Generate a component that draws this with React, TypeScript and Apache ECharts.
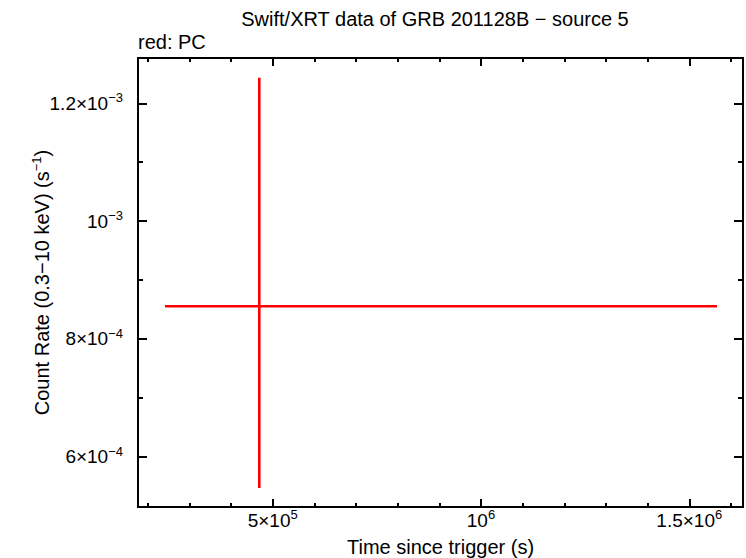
import React, { useEffect, useRef } from "react";
import * as echarts from "echarts";

// Data
const timeMid = [4.678e5];
const timeLo = [2.415e5];
const timeHi = [1.5665e6];
const rateMid = [8.555e-4];
const rateLo = [5.469e-4];
const rateHi = [1.2435e-3];

const xMajorTicks = [5e5, 1e6, 1.5e6];
const xMinorTicks = [2e5, 3e5, 4e5, 6e5, 7e5, 8e5, 9e5, 1.1e6, 1.2e6, 1.3e6, 1.4e6, 1.6e6];
const yMajorTicks = [6e-4, 8e-4, 1e-3, 1.2e-3];
const yMinorTicks = [7e-4, 9e-4, 1.1e-3];

const X_MIN = 1.767e5;
const X_MAX = 1.629e6;
const Y_MIN = 5.146e-4;
const Y_MAX = 1.2769e-3;

const FONT = "'Liberation Sans', Arial, Helvetica, sans-serif";

function sciLabel(v: number): string {
  const e = Math.floor(Math.log10(v) + 1e-9);
  const m = Math.round((v / Math.pow(10, e)) * 100) / 100;
  const es = e < 0 ? "\u2212" + Math.abs(e) : String(e);
  if (m === 1) return "{b|10}{s|" + es + "}";
  return "{b|" + m + "\u00d710}{s|" + es + "}";
}

const rich = {
  b: { fontSize: 19, fontFamily: FONT, color: "#000" },
  s: { fontSize: 13, fontFamily: FONT, color: "#000", padding: [0, 0, 11, 0] },
};

export default function App() {
  const ref = useRef<HTMLDivElement>(null);
  useEffect(() => {
    if (!ref.current) return;
    const chart = echarts.init(ref.current, undefined, { renderer: "svg" });
    const axisLine = { show: true, lineStyle: { color: "#000", width: 2 } };
    const mkX = (pos: "top" | "bottom", ticks: number[], len: number, labels: boolean, name?: string) => ({
      type: "value",
      position: pos,
      min: X_MIN,
      max: X_MAX,
      axisLine,
      splitLine: { show: false },
      axisTick: { show: true, inside: true, length: len, customValues: ticks, lineStyle: { color: "#000", width: 2 } },
      axisLabel: labels
        ? { show: true, customValues: ticks, formatter: (v: number) => sciLabel(v), rich, fontSize: 19, fontFamily: FONT, color: "#000", margin: 1 }
        : { show: false },
      name: name,
      nameLocation: "middle",
      nameGap: 30,
      nameMoveOverlap: false,
      nameTextStyle: { fontSize: 20, fontFamily: FONT, color: "#000" },
    });
    const mkY = (pos: "left" | "right", ticks: number[], len: number, labels: boolean, name?: string) => ({
      type: "value",
      position: pos,
      min: Y_MIN,
      max: Y_MAX,
      axisLine,
      splitLine: { show: false },
      axisTick: { show: true, inside: true, length: len, customValues: ticks, lineStyle: { color: "#000", width: 2 } },
      axisLabel: labels
        ? { show: true, customValues: ticks, formatter: (v: number) => sciLabel(v), rich, fontSize: 19, fontFamily: FONT, color: "#000", margin: 15 }
        : { show: false },
      name: name,
      nameLocation: "middle",
      nameGap: 84,
      nameMoveOverlap: false,
      nameTextStyle: {
        fontSize: 20,
        fontFamily: FONT,
        color: "#000",
        rich: {
          n: { fontSize: 20, fontFamily: FONT, color: "#000" },
          s: { fontSize: 13, fontFamily: FONT, color: "#000", padding: [0, 0, 11, 0] },
        },
      },
    });

    const data = timeMid.map((t, i) => [t, timeLo[i], timeHi[i], rateMid[i], rateLo[i], rateHi[i]]);

    chart.setOption({
      animation: false,
      backgroundColor: "#fff",
      grid: { left: 138, right: 3, top: 58, bottom: 51, containLabel: false, outerBoundsMode: "none" },
      xAxis: [
        mkX("bottom", xMajorTicks, 8, true, "Time since trigger (s)"),
        mkX("bottom", xMinorTicks, 4, false),
        mkX("top", xMajorTicks, 8, false),
        mkX("top", xMinorTicks, 4, false),
      ],
      yAxis: [
        mkY("left", yMajorTicks, 9, true, "{n|Count Rate (0.3\u221210 keV) (s}{s|\u22121}{n|)}"),
        mkY("left", yMinorTicks, 5, false),
        mkY("right", yMajorTicks, 9, false),
        mkY("right", yMinorTicks, 5, false),
      ],
      graphic: [
        {
          type: "text",
          x: 435,
          y: 19,
          style: {
            text: "Swift/XRT data of GRB 201128B \u2212 source 5",
            font: "20px " + FONT,
            fill: "#000",
            textAlign: "center",
            textVerticalAlign: "middle",
          },
        },
        {
          type: "text",
          x: 138,
          y: 42,
          style: {
            text: "red: PC",
            font: "20px " + FONT,
            fill: "#000",
            textAlign: "left",
            textVerticalAlign: "middle",
          },
        },
      ],
      series: [
        {
          type: "custom",
          xAxisIndex: 0,
          yAxisIndex: 0,
          data,
          renderItem: (params: any, api: any) => {
            const t = api.value(0);
            const tl = api.value(1);
            const th = api.value(2);
            const r = api.value(3);
            const rl = api.value(4);
            const rh = api.value(5);
            const a = api.coord([tl, r]);
            const b = api.coord([th, r]);
            const c = api.coord([t, rl]);
            const d = api.coord([t, rh]);
            const style = { stroke: "#ff0000", lineWidth: 2.6 };
            return {
              type: "group",
              children: [
                { type: "line", shape: { x1: a[0], y1: a[1], x2: b[0], y2: b[1] }, style },
                { type: "line", shape: { x1: c[0], y1: c[1], x2: d[0], y2: d[1] }, style },
              ],
            };
          },
        },
      ],
    });
    return () => chart.dispose();
  }, []);
  return (
    <div
      ref={ref}
      style={{ position: "fixed", left: 0, top: 0, width: 746, height: 558, background: "#fff" }}
    />
  );
}
